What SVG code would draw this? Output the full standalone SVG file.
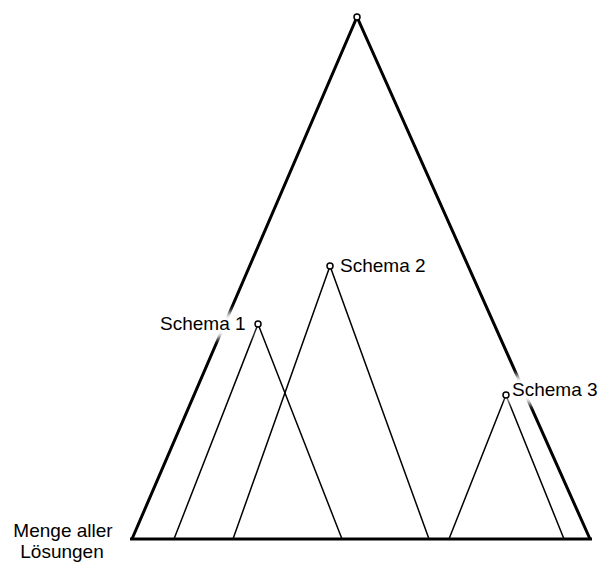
<svg xmlns="http://www.w3.org/2000/svg" width="606" height="562" viewBox="0 0 606 562">
  <style>
    .outer { fill: none; stroke: #000; stroke-width: 3; stroke-linejoin: miter; }
    .schema { fill: none; stroke: #000; stroke-width: 1.5; }
    .apex { fill: #fff; stroke: #000; stroke-width: 1.5; }
    .label { font-family: "Liberation Sans", Arial, sans-serif; font-size: 19px; fill: #000; }
    .halo { font-family: "Liberation Sans", Arial, sans-serif; font-size: 19px; fill: #fff; stroke: #fff; stroke-width: 16; stroke-linejoin: round; }
  </style>
  <defs>
    <filter id="soft" x="-30%" y="-100%" width="160%" height="300%">
      <feGaussianBlur stdDeviation="3"/>
    </filter>
  </defs>
  <rect width="606" height="562" fill="#fff"/>

  <!-- search space and schema triangles -->
  <g id="connectors">
    <polyline class="outer" points="132,539 357,17 590,539"/>
    <line class="outer" x1="130" y1="539" x2="592" y2="539"/>
    <polyline class="schema" points="174,539 258,324 342,539"/>
    <polyline class="schema" points="233,539 330,266 429,539"/>
    <polyline class="schema" points="449,539 506,395 564,539"/>
  </g>

  <!-- white halos that cut the outline behind the labels -->
  <g id="halos" filter="url(#soft)">
    <text class="halo" x="160" y="330">Schema 1</text>
    <text class="halo" x="512" y="396">Schema 3</text>
  </g>

  <g id="root">
    <circle class="apex" cx="357" cy="17" r="3"/>
  </g>
  <g id="schema1">
    <circle class="apex" cx="258" cy="324" r="3"/>
    <text class="label" x="160" y="330">Schema 1</text>
  </g>
  <g id="schema2">
    <circle class="apex" cx="330" cy="266" r="3"/>
    <text class="label" x="340" y="272">Schema 2</text>
  </g>
  <g id="schema3">
    <circle class="apex" cx="506" cy="395" r="3"/>
    <text class="label" x="512" y="396">Schema 3</text>
  </g>
  <g id="solutions">
    <text class="label" x="63" y="537" text-anchor="middle">Menge aller</text>
    <text class="label" x="62" y="558" text-anchor="middle">Lösungen</text>
  </g>
</svg>
